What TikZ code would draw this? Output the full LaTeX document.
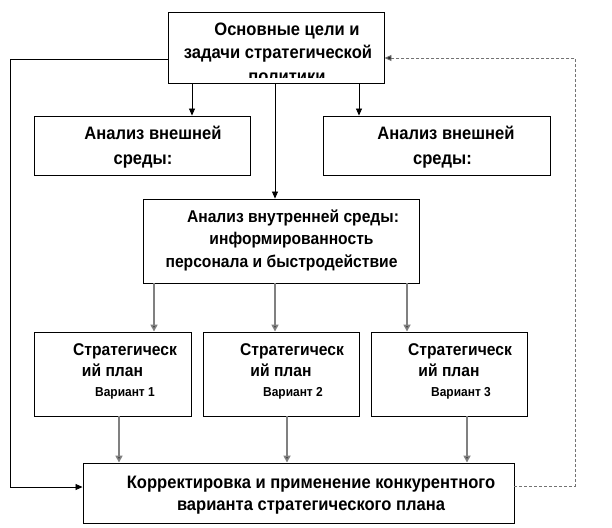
\documentclass[tikz,border=0pt]{standalone}
\usepackage{fontspec}
\setmainfont{Liberation Sans}[FakeStretch=0.92]
\usetikzlibrary{arrows.meta}
\begin{document}
\begin{tikzpicture}[x=1pt,y=-1pt,
  box/.style={draw=black,line width=0.9pt,inner sep=0pt,fill=none},
  txt/.style={inner sep=0pt,align=center,anchor=base,font=\fontsize{18}{23.5}\selectfont\bfseries},
  small/.style={inner sep=0pt,anchor=base,font=\fontsize{13}{14}\selectfont\bfseries},
  blk/.style={draw=black,line width=0.8pt,-{Triangle[width=6pt,length=7pt]}},
  gry/.style={draw=black!50,line width=1.6pt,-{Triangle[width=7pt,length=7pt,fill=black!85]}},
  dsh/.style={draw=black!55,line width=0.9pt,dash pattern=on 3pt off 2pt,-{Triangle[width=6pt,length=7pt,fill=black!85]}}]
\useasboundingbox (0,0) rectangle (612,527);
\fill[white] (0,0) rectangle (612,527);
% boxes
\node[box,minimum width=216pt,minimum height=71pt] (top) at (276,47.5) {};
\node[box,minimum width=216pt,minimum height=59pt] (extL) at (142,145.5) {};
\node[box,minimum width=227pt,minimum height=59pt] (extR) at (436.5,145.5) {};
\node[box,minimum width=276pt,minimum height=84pt] (int) at (281,241) {};
\node[box,minimum width=157pt,minimum height=84pt] (p1) at (112.5,374) {};
\node[box,minimum width=156pt,minimum height=84pt] (p2) at (281,374) {};
\node[box,minimum width=156pt,minimum height=84pt] (p3) at (449,374) {};
\node[box,minimum width=431pt,minimum height=60pt] (bot) at (298.5,493) {};
% texts (base anchor = baseline of the last line)
\begin{scope}
\clip (169,13) rectangle (383,77.5);
\node[txt] (topT) at (287,82) {Основные цели и\\\mbox{задачи стратегической\hspace{18pt}}\\политики};
\end{scope}
\node[txt,font=\fontsize{18}{25}\selectfont\bfseries] (extLT) at (153,164) {Анализ внешней\\среды:\hspace*{20pt}};
\node[txt,font=\fontsize{18}{25}\selectfont\bfseries] (extRT) at (446,164) {Анализ внешней\\среды:\hspace*{7pt}};
\node[txt,font=\fontsize{17}{22.5}\selectfont\bfseries] (intT) at (293,267) {Анализ внутренней среды:\\\mbox{информированность\hspace{3pt}}\\персонала и быстродействие\hspace*{23pt}};
\node[txt,font=\fontsize{17}{21}\selectfont\bfseries] (p1T) at (125,376) {Стратегическ\\ий план\hspace*{25pt}};
\node[txt,font=\fontsize{17}{21}\selectfont\bfseries] (p2T) at (292,376) {Стратегическ\\ий план\hspace*{22pt}};
\node[txt,font=\fontsize{17}{21}\selectfont\bfseries] (p3T) at (460,376) {Стратегическ\\ий план\hspace*{22pt}};
\node[small] (v1) at (125,396) {Вариант 1};
\node[small] (v2) at (293,396) {Вариант 2};
\node[small] (v3) at (461,396) {Вариант 3};
\node[txt,font=\fontsize{18}{21.5}\selectfont\bfseries] (botT) at (311,510) {Корректировка и применение конкурентного\\варианта стратегического плана};
% connectors from top box
\draw[blk] ([xshift=-84pt]top.south) -- ([xshift=-84pt]top.south |- extL.north);
\draw[blk] ([xshift=-1pt]top.south) -- ([xshift=-1pt]top.south |- int.north);
\draw[blk] ([xshift=83pt]top.south) -- ([xshift=83pt]top.south |- extR.north);
% internal to plans
\draw[gry] ([xshift=-127pt]int.south) -- ([xshift=-127pt]int.south |- p1.north);
\draw[gry] ([xshift=-6pt]int.south) -- ([xshift=-6pt]int.south |- p2.north);
\draw[gry] ([xshift=126pt]int.south) -- ([xshift=126pt]int.south |- p3.north);
% plans to bottom
\draw[gry] ([xshift=6.5pt]p1.south) -- ([xshift=6.5pt]p1.south |- bot.north);
\draw[gry] ([xshift=6pt]p2.south) -- ([xshift=6pt]p2.south |- bot.north);
\draw[gry] ([xshift=18pt]p3.south) -- ([xshift=18pt]p3.south |- bot.north);
% feedback loops
\draw[blk] ([yshift=-11.5pt]top.west) -- ++(-157pt,0) |- ([yshift=6pt]bot.west);
\draw[dsh] ([yshift=7pt]bot.east) -- ++(61pt,0) |- ([yshift=-10.5pt]top.east);
\end{tikzpicture}
\end{document}
